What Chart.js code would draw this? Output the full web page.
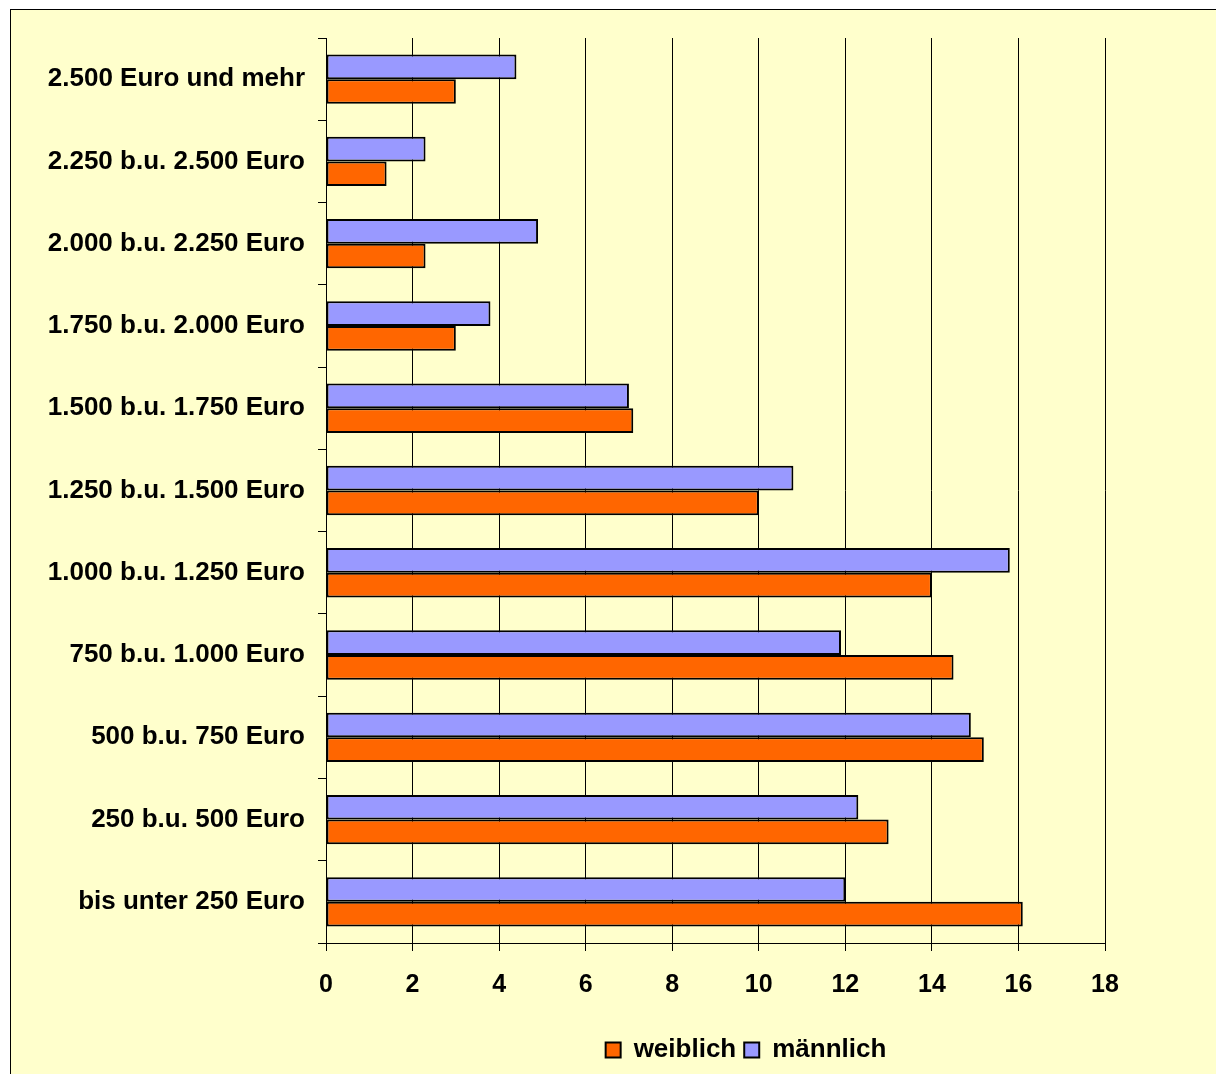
<!DOCTYPE html>
<html>
<head>
<meta charset="utf-8">
<script src="https://cdn.jsdelivr.net/npm/chart.js@4"></script>
<style>
  html, body { margin: 0; padding: 0; background: #fff; }
  canvas { display: block; }
</style>
</head>
<body>
<canvas id="incomeChart" width="1216" height="1074"></canvas>
<script>
// Einkommensklassen, von oben nach unten
const categories = [
    "2.500 Euro und mehr",
    "2.250 b.u. 2.500 Euro",
    "2.000 b.u. 2.250 Euro",
    "1.750 b.u. 2.000 Euro",
    "1.500 b.u. 1.750 Euro",
    "1.250 b.u. 1.500 Euro",
    "1.000 b.u. 1.250 Euro",
    "750 b.u. 1.000 Euro",
    "500 b.u. 750 Euro",
    "250 b.u. 500 Euro",
    "bis unter 250 Euro"
];
const weiblich = [3.0, 1.4, 2.3, 3.0, 7.1, 10.0, 14.0, 14.5, 15.2, 13.0, 16.1];
const maennlich = [4.4, 2.3, 4.9, 3.8, 7.0, 10.8, 15.8, 11.9, 14.9, 12.3, 12.0];
const xMin = 0;
const xMax = 18;
const xStep = 2;

const FONT = "'Liberation Sans', Arial, sans-serif";

// yellow chart frame behind everything
const framePlugin = {
    id: "frame",
    beforeDraw(chart) {
        const ctx = chart.ctx;
        ctx.save();
        ctx.fillStyle = "#ffffff";
        ctx.fillRect(0, 0, chart.width, chart.height);
        ctx.fillStyle = "#FFFFCC";
        ctx.fillRect(10, 9, chart.width + 20, chart.height + 20);
        ctx.strokeStyle = "#000";
        ctx.lineWidth = 1;
        ctx.strokeRect(10.5, 9.5, chart.width + 20, chart.height + 20);
        ctx.restore();
    }
};

// move the legend so it sits under the right part of the plot, as in the original
const legendShift = {
    id: "legendShift",
    afterLayout(chart) {
        const l = chart.legend;
        const w = l.right - l.left;
        l.left = 746 - w / 2;
        l.right = l.left + w;
    }
};

const ctx = document.getElementById("incomeChart").getContext("2d");

new Chart(ctx, {
    type: "bar",
    data: {
        labels: categories,
        datasets: [
            {
                label: "männlich",
                data: maennlich,
                backgroundColor: "#9999FF",
                borderColor: "#000",
                borderWidth: 2,
                borderSkipped: false
            },
            {
                label: "weiblich",
                data: weiblich,
                backgroundColor: "#FF6600",
                borderColor: "#000",
                borderWidth: 2,
                borderSkipped: false
            }
        ]
    },
    options: {
        indexAxis: "y",
        responsive: false,
        animation: false,
        categoryPercentage: 0.6,
        barPercentage: 1.0,
        layout: {
            padding: { top: 38, right: 111, bottom: 1, left: 0 }
        },
        scales: {
            x: {
                min: xMin,
                max: xMax,
                ticks: {
                    stepSize: xStep,
                    color: "#000",
                    padding: 19,
                    font: { family: FONT, size: 25, weight: "bold" }
                },
                grid: {
                    color: "#000",
                    lineWidth: 1,
                    tickLength: 8
                },
                border: { color: "#000", width: 1 },
                afterFit(scale) { scale.height = 86; }
            },
            y: {
                ticks: {
                    color: "#000",
                    padding: 13,
                    font: { family: FONT, size: 26, weight: "bold" }
                },
                grid: {
                    offset: true,
                    drawOnChartArea: false,
                    color: "#000",
                    tickLength: 8
                },
                border: { color: "#000", width: 1 },
                afterFit(scale) { scale.width = 326; }
            }
        },
        plugins: {
            legend: {
                position: "bottom",
                fullSize: false,
                reverse: true,
                labels: {
                    boxWidth: 15,
                    boxHeight: 15,
                    padding: 8,
                    color: "#000",
                    font: { family: FONT, size: 26, weight: "bold" }
                }
            },
            tooltip: { enabled: false }
        }
    },
    plugins: [framePlugin, legendShift]
});
</script>
</body>
</html>
